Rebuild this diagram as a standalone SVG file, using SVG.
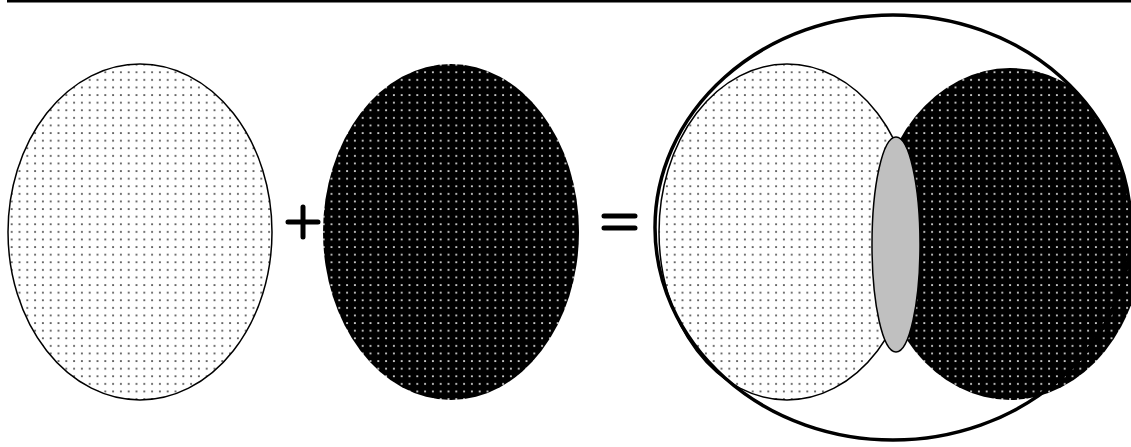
<svg xmlns="http://www.w3.org/2000/svg" width="1131" height="447" viewBox="0 0 1131 447">
<style>
.light{fill:url(#dotsLight);stroke:#000;stroke-width:1.5}
.dark{fill:url(#dotsDark);stroke:none}
.sym{stroke:#000;stroke-width:5;stroke-linecap:round;fill:none}
</style>
<defs>
<pattern id="dotsLight" width="7.8" height="7.6" patternUnits="userSpaceOnUse">
<rect width="7.8" height="7.6" fill="#fff"/>
<rect x="3" y="3" width="1.8" height="1.8" fill="#555"/>
</pattern>
<pattern id="dotsDark" width="7.8" height="7.6" patternUnits="userSpaceOnUse">
<rect width="7.8" height="7.6" fill="#000"/>
<rect x="3" y="3" width="1.8" height="1.8" fill="#d8d8d8"/>
</pattern>
<clipPath id="topClip">
<ellipse cx="893" cy="227.5" rx="238" ry="212.5"/>
<rect x="600" y="250" width="531" height="197"/>
</clipPath>
</defs>
<rect width="1131" height="447" fill="#fff"/>
<rect x="7" y="0" width="1124" height="2.5" fill="#000"/>
<g id="lightSet"><ellipse class="light" cx="140" cy="232" rx="132" ry="168"/></g>
<g id="plus"><path class="sym" d="M288 222H318M303 207V237"/></g>
<g id="darkSet"><ellipse class="dark" cx="451" cy="232" rx="128" ry="168"/></g>
<g id="equals"><path class="sym" d="M604 216H635M604 228H635"/></g>
<g id="union">
<ellipse class="light" cx="787" cy="232" rx="128" ry="168"/>
<ellipse class="dark" cx="1010" cy="234" rx="134" ry="166" clip-path="url(#topClip)"/>
<ellipse cx="896" cy="244.5" rx="24" ry="107.5" fill="#c0c0c0" stroke="#000" stroke-width="1.5"/>
<ellipse cx="893" cy="227.5" rx="238" ry="212.5" fill="none" stroke="#000" stroke-width="3.5"/>
</g>
</svg>
